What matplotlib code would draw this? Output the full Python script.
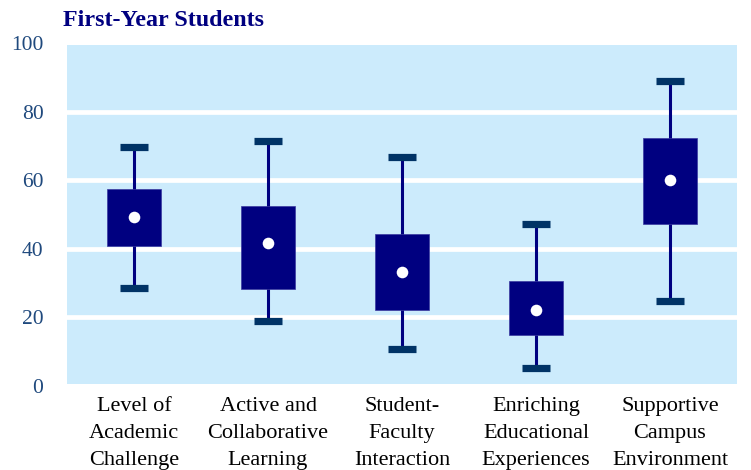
import matplotlib
matplotlib.use("Agg")
import matplotlib.pyplot as plt

categories = ["Level of\nAcademic\nChallenge", "Active and\nCollaborative\nLearning",
              "Student-\nFaculty\nInteraction", "Enriching\nEducational\nExperiences",
              "Supportive\nCampus\nEnvironment"]
whisker_low = [28.5, 19.0, 10.9, 5.3, 24.9]
q1 = [40.9, 28.4, 22.1, 14.8, 47.1]
mean = [49.2, 41.6, 33.2, 22.1, 60.0]
q3 = [57.3, 52.5, 44.4, 30.6, 72.4]
whisker_high = [69.8, 71.5, 66.7, 47.2, 88.9]
yticks = [0, 20, 40, 60, 80, 100]

plt.rcParams['font.family'] = ['Liberation Serif', 'DejaVu Serif']

fig = plt.figure(figsize=(7.51, 4.70), dpi=100)
ax = fig.add_axes([67/751, 84/470, 670/751, 343/470])
ax.set_facecolor('none')
ax.set_xlim(0.5, 5.5)
ax.set_ylim(0, 100)
ax.axhspan(0.6, 99.4, color='#CCEBFC', zorder=0, lw=0)
for t in [20, 40, 60, 80]:
    ax.axhline(t, color='white', lw=3.4, zorder=1)

pos = list(range(1, len(categories) + 1))
ax.vlines(pos, whisker_low, whisker_high, color='#000080', lw=2.2, zorder=2)
ax.hlines(whisker_low, [p - 0.105 for p in pos], [p + 0.105 for p in pos],
          color='#003366', lw=5.2, zorder=3, capstyle='butt')
ax.hlines(whisker_high, [p - 0.105 for p in pos], [p + 0.105 for p in pos],
          color='#003366', lw=5.2, zorder=3, capstyle='butt')
ax.bar(pos, [b - a for a, b in zip(q1, q3)], bottom=q1, width=0.40,
       color='#000080', edgecolor='#3A3AA0', lw=0.5, zorder=4)
ax.scatter(pos, mean, s=70, color='white', zorder=5, lw=0)

for s in ax.spines.values():
    s.set_visible(False)
ax.set_yticks(yticks)
ax.set_yticklabels([str(v) for v in yticks], fontsize=15.5, color='#1F497D')
ax.set_xticks(pos)
ax.set_xticklabels(categories, fontsize=16, color='black', linespacing=1.56)
ax.tick_params(axis='both', length=0)
ax.tick_params(axis='y', pad=17)
ax.tick_params(axis='x', pad=8)

fig.text(63/751, 1 - 21/470, "First-Year Students", fontsize=17.3, fontweight='bold',
         color='#000080', va='center', ha='left')

fig.savefig("out.png", dpi=100)
